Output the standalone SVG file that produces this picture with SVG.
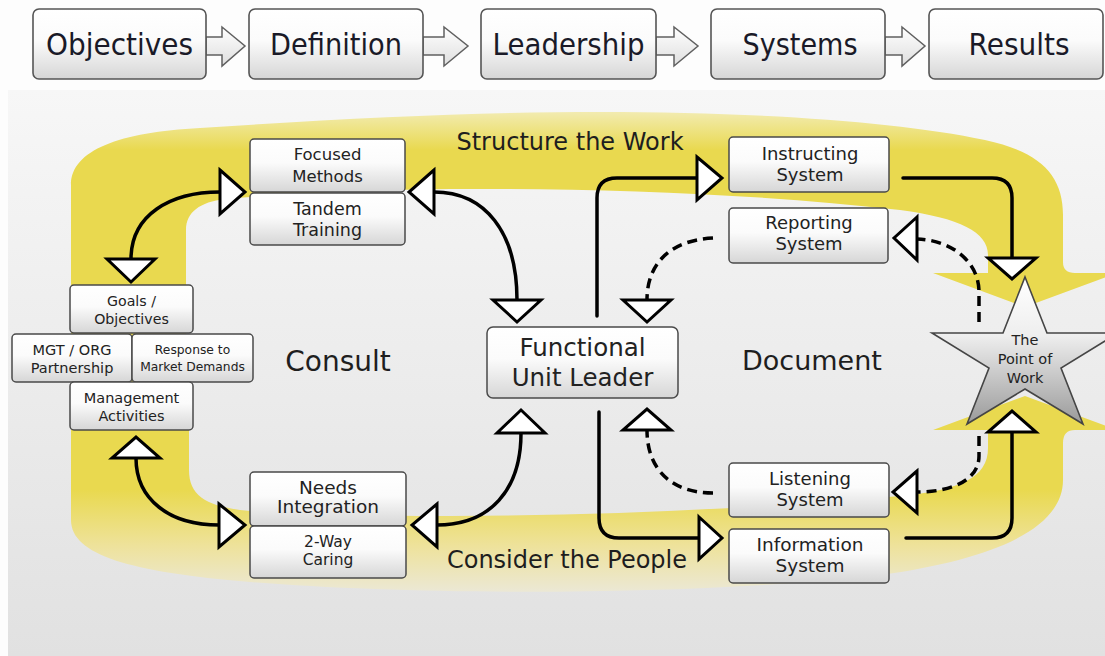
<svg xmlns="http://www.w3.org/2000/svg" width="1105" height="656" viewBox="0 0 1105 656">
<defs>
<linearGradient id="bg" x1="0" y1="0" x2="0" y2="1"><stop offset="0" stop-color="#f7f7f7"/><stop offset="1" stop-color="#e1e1e1"/></linearGradient>
<linearGradient id="box" x1="0" y1="0" x2="0" y2="1"><stop offset="0" stop-color="#ffffff"/><stop offset="0.45" stop-color="#fbfbfb"/><stop offset="1" stop-color="#d6d6d6"/></linearGradient>
<linearGradient id="arr" x1="0" y1="0" x2="0" y2="1"><stop offset="0" stop-color="#ffffff"/><stop offset="1" stop-color="#dedede"/></linearGradient>
<linearGradient id="star" x1="0" y1="0" x2="0" y2="1"><stop offset="0" stop-color="#ffffff"/><stop offset="0.4" stop-color="#eeeeee"/><stop offset="1" stop-color="#9a9a9a"/></linearGradient>
<linearGradient id="ytop" gradientUnits="userSpaceOnUse" x1="0" y1="104" x2="0" y2="150"><stop offset="0" stop-color="#f4efc4"/><stop offset="1" stop-color="#e9d94f"/></linearGradient>
<linearGradient id="ybot" gradientUnits="userSpaceOnUse" x1="0" y1="490" x2="0" y2="600"><stop offset="0" stop-color="#e9d94f"/><stop offset="0.5" stop-color="#eee29a"/><stop offset="1" stop-color="#ebe9df"/></linearGradient>
<style>
.tb{fill:url(#box);stroke:#555;stroke-width:1.6}
.nb{fill:url(#box);stroke:#4a4a4a;stroke-width:1.5}
.ttop{font-family:"DejaVu Sans",Verdana,sans-serif;font-size:30px;fill:#1a1a28;text-anchor:middle}
.t{font-family:"DejaVu Sans",Verdana,sans-serif;fill:#222;text-anchor:middle}
.lab{font-family:"DejaVu Sans",Verdana,sans-serif;fill:#1e1e1e;text-anchor:middle}
.flow{fill:url(#arr);stroke:#606060;stroke-width:1.5}
.ln{fill:none;stroke:#000;stroke-width:3.5;stroke-linecap:round}
.dash{fill:none;stroke:#000;stroke-width:3.5;stroke-dasharray:10 6}
.hd{fill:#fff;stroke:#000;stroke-width:3;stroke-linejoin:miter}
</style>
</defs>

<rect x="0" y="0" width="1105" height="656" fill="#fdfdfd"/>
<rect x="8" y="90" width="1097" height="566" fill="url(#bg)"/>

<g id="band">
<path fill="url(#ytop)" d="M71,365 L71,185 C71,150 120,132 200,128 C350,118 480,112 600,112 C760,112 900,122 985,140 C1040,152 1063,175 1063,215 L1063,262 Q1063,273 1075,273 L1117,273 L1025,307 L933,273 L988,273 L988,255 C988,232 960,218 900,210 C760,194 600,188 450,189 C350,190 270,195 225,199 C200,202 186,212 186,230 L186,365 Z"/>
<path fill="url(#ybot)" d="M71,360 L71,520 C71,555 130,572 250,582 C420,596 700,596 880,575 C990,560 1063,530 1063,480 L1063,443 Q1063,430 1075,430 L1117,430 L1025,396 L933,430 L988,430 L988,448 C988,478 960,490 900,496 C760,508 600,516 450,516 C350,516 280,514 240,510 C205,505 189,495 189,470 L189,360 Z"/>
</g>

<g id="labels">
<text class="lab" x="570" y="150" font-size="24">Structure the Work</text>
<text class="lab" x="338" y="371" font-size="28">Consult</text>
<text class="lab" x="812" y="370" font-size="27">Document</text>
<text class="lab" x="567" y="568" font-size="24">Consider the People</text>
</g>

<g id="flow-arrows">
<polygon class="flow" points="206,37 222,37 222,27 245,46 222,66 222,55 206,55"/>
<polygon class="flow" points="423,37 444,37 444,27 468,46 444,66 444,55 423,55"/>
<polygon class="flow" points="656,37 674,37 674,27 698,46 674,66 674,55 656,55"/>
<polygon class="flow" points="885,37 902,37 902,27 925,46 902,66 902,55 885,55"/>
</g>

<g id="top-objectives"><rect class="tb" x="33" y="9" width="173" height="70" rx="6"/><text class="ttop" x="119.5" y="55" textLength="147" lengthAdjust="spacingAndGlyphs">Objectives</text></g>
<g id="top-definition"><rect class="tb" x="249" y="9" width="174" height="70" rx="6"/><text class="ttop" x="336" y="55" textLength="132" lengthAdjust="spacingAndGlyphs">Definition</text></g>
<g id="top-leadership"><rect class="tb" x="481" y="9" width="175" height="70" rx="6"/><text class="ttop" x="568.5" y="55" textLength="152" lengthAdjust="spacingAndGlyphs">Leadership</text></g>
<g id="top-systems"><rect class="tb" x="711" y="9" width="174" height="70" rx="6"/><text class="ttop" x="800" y="55" textLength="115" lengthAdjust="spacingAndGlyphs">Systems</text></g>
<g id="top-results"><rect class="tb" x="929" y="9" width="174" height="70" rx="6"/><text class="ttop" x="1019" y="55" textLength="101" lengthAdjust="spacingAndGlyphs">Results</text></g>

<g id="connectors">
<path class="ln" d="M220,192 C170,192 131,215 131,259"/>
<path class="ln" d="M434,192 C485,192 517,232 517,300"/>
<path class="ln" d="M136,458 C136,500 170,525 219,525"/>
<path class="ln" d="M437,525 C490,525 521,490 521,433"/>
<path class="ln" d="M597,316 V198 Q597,178 617,178 H697"/>
<path class="ln" d="M903,178 H992 Q1012,178 1012,198 V258"/>
<path class="dash" d="M979,322 V292 C979,262 952,240 917,239"/>
<path class="dash" d="M713,238 C672,240 647,262 647,300"/>
<path class="dash" d="M979,436 V456 C979,480 952,492 917,492"/>
<path class="dash" d="M713,493 C672,493 647,470 647,430"/>
<path class="ln" d="M599,412 V518 Q599,538 619,538 H699"/>
<path class="ln" d="M906,538 H992 Q1012,538 1012,518 V432"/>
<polygon class="hd" points="220,170 245,192 220,214"/>
<polygon class="hd" points="107,259 155,259 131,282"/>
<polygon class="hd" points="434,170 409,192 434,214"/>
<polygon class="hd" points="493,300 541,300 517,322"/>
<polygon class="hd" points="112,458 160,458 136,437"/>
<polygon class="hd" points="219,504 245,525 219,547"/>
<polygon class="hd" points="437,504 412,525 437,547"/>
<polygon class="hd" points="497,433 545,433 521,410"/>
<polygon class="hd" points="697,157 722,178 697,200"/>
<polygon class="hd" points="988,258 1036,258 1012,279"/>
<polygon class="hd" points="917,217 894,238 917,260"/>
<polygon class="hd" points="623,300 671,300 647,322"/>
<polygon class="hd" points="917,471 893,492 917,513"/>
<polygon class="hd" points="623,430 671,430 647,409"/>
<polygon class="hd" points="699,517 722,538 699,559"/>
<polygon class="hd" points="988,432 1036,432 1012,411"/>
</g>

<g id="focused-methods"><rect class="nb" x="250" y="139" width="155" height="53" rx="4"/><text class="t" font-size="16.5"><tspan x="327.5" y="160">Focused</tspan><tspan x="327.5" y="182">Methods</tspan></text></g>
<g id="tandem-training"><rect class="nb" x="250" y="193" width="155" height="52" rx="4"/><text class="t" font-size="17.5"><tspan x="327.5" y="215">Tandem</tspan><tspan x="327.5" y="236">Training</tspan></text></g>
<g id="goals"><rect class="nb" x="70" y="285" width="123" height="48" rx="4"/><text class="t" font-size="14.2"><tspan x="131.5" y="306">Goals /</tspan><tspan x="131.5" y="324">Objectives</tspan></text></g>
<g id="mgt-org"><rect class="nb" x="12" y="334" width="120" height="48" rx="4"/><text class="t" font-size="14.5"><tspan x="72" y="355">MGT / ORG</tspan><tspan x="72" y="373">Partnership</tspan></text></g>
<g id="response"><rect class="nb" x="132" y="334" width="121" height="48" rx="4"/><text class="t" font-size="12.3"><tspan x="192.5" y="354">Response to</tspan><tspan x="192.5" y="371">Market Demands</tspan></text></g>
<g id="management"><rect class="nb" x="70" y="382" width="123" height="48" rx="4"/><text class="t" font-size="14.5"><tspan x="131.5" y="403">Management</tspan><tspan x="131.5" y="421">Activities</tspan></text></g>
<g id="needs-integration"><rect class="nb" x="250" y="472" width="156" height="54" rx="4"/><text class="t" font-size="18.5"><tspan x="328" y="494">Needs</tspan><tspan x="328" y="513">Integration</tspan></text></g>
<g id="two-way-caring"><rect class="nb" x="250" y="526" width="156" height="52" rx="4"/><text class="t" font-size="15.5"><tspan x="328" y="547">2-Way</tspan><tspan x="328" y="565">Caring</tspan></text></g>
<g id="functional"><rect class="nb" x="487" y="327" width="191" height="71" rx="6"/><text class="t" font-size="24.5" fill="#4a4a55"><tspan x="582.5" y="356">Functional</tspan><tspan x="582.5" y="386">Unit Leader</tspan></text></g>
<g id="instructing"><rect class="nb" x="729" y="137" width="160" height="55" rx="4"/><text class="t" font-size="18"><tspan x="810" y="160">Instructing</tspan><tspan x="810" y="181">System</tspan></text></g>
<g id="reporting"><rect class="nb" x="729" y="208" width="159" height="55" rx="4"/><text class="t" font-size="18"><tspan x="809" y="229">Reporting</tspan><tspan x="809" y="250">System</tspan></text></g>
<g id="listening"><rect class="nb" x="729" y="463" width="160" height="54" rx="4"/><text class="t" font-size="18"><tspan x="810" y="485">Listening</tspan><tspan x="810" y="506">System</tspan></text></g>
<g id="information"><rect class="nb" x="729" y="529" width="160" height="54" rx="4"/><text class="t" font-size="18.5"><tspan x="810" y="551">Information</tspan><tspan x="810" y="572">System</tspan></text></g>
<g id="star-point-of-work"><polygon fill="url(#star)" stroke="#454545" stroke-width="1.6" points="1025,277 1047,333 1118,333 1061,368 1083,424 1025,389 967,424 989,368 932,333 1003,333"/><text class="t" font-size="14.5" fill="#333"><tspan x="1025" y="345">The</tspan><tspan x="1025" y="364">Point of</tspan><tspan x="1025" y="383">Work</tspan></text></g>
</svg>
